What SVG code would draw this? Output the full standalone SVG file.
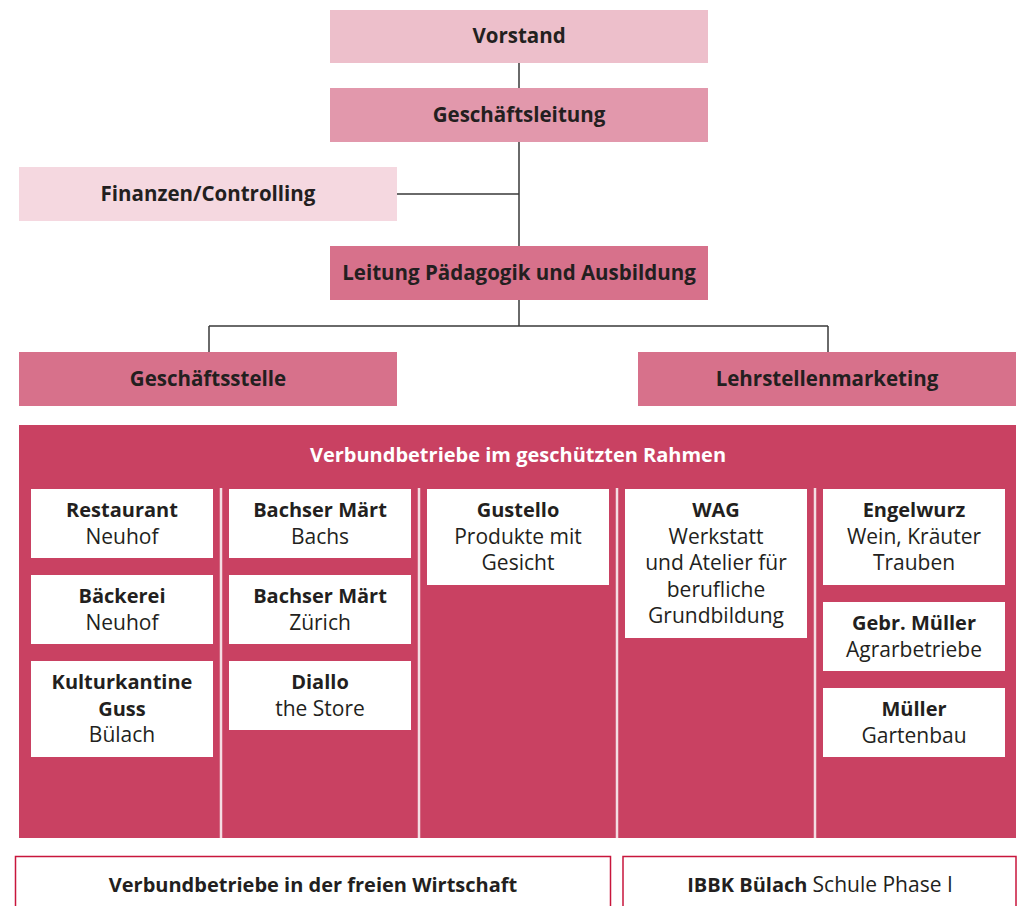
<svg xmlns="http://www.w3.org/2000/svg" width="1019" height="906" viewBox="0 0 1019 906">
<style>
text{font-family:"Open Sans","Liberation Sans",sans-serif;fill:#231f20;text-anchor:middle}
.h{font-size:20.5px;font-weight:700}
.b{font-size:20px;font-weight:700}
.r{font-size:21px;font-weight:400}
.cell{fill:#ffffff}
.ln{stroke:#3a3a3a;stroke-width:1.5;fill:none}
.sep{stroke:#f4dde3;stroke-width:2.5}
.out{fill:#ffffff;stroke:#c8163c;stroke-width:1.5}
</style>
<rect width="1019" height="906" fill="#ffffff"/>
<g id="connectors">
<path class="ln" d="M519 63V246M397 194H519M519 300V326M209 326H828M209 326V352M828 326V352"/>
</g>
<g id="vorstand"><rect x="330" y="10" width="378" height="53" fill="#edbfcb"/><text class="h" x="519" y="43">Vorstand</text></g>
<g id="geschaeftsleitung"><rect x="330" y="88" width="378" height="54" fill="#e298ac"/><text class="h" x="519" y="122">Geschäftsleitung</text></g>
<g id="finanzen"><rect x="19" y="167" width="378" height="54" fill="#f5d8e0"/><text class="h" x="208" y="201">Finanzen/Controlling</text></g>
<g id="leitung"><rect x="330" y="246" width="378" height="54" fill="#d7718b"/><text class="h" x="519" y="280">Leitung Pädagogik und Ausbildung</text></g>
<g id="geschaeftsstelle"><rect x="19" y="352" width="378" height="54" fill="#d7718b"/><text class="h" x="208" y="386">Geschäftsstelle</text></g>
<g id="lehrstellen"><rect x="638" y="352" width="378" height="54" fill="#d7718b"/><text class="h" x="827" y="386">Lehrstellenmarketing</text></g>
<g id="verbund">
<rect x="19" y="425" width="997" height="413" fill="#c94162"/>
<text class="b" x="518" y="462" style="fill:#ffffff">Verbundbetriebe im geschützten Rahmen</text>
<path class="sep" d="M221 488V838M419 488V838M617 488V838M815 488V838"/>
</g>
<g id="restaurant"><rect class="cell" x="31" y="489" width="182" height="69"/><text class="b" x="122" y="517">Restaurant</text><text class="r" x="122" y="544">Neuhof</text></g>
<g id="baeckerei"><rect class="cell" x="31" y="575" width="182" height="69"/><text class="b" x="122" y="603">Bäckerei</text><text class="r" x="122" y="630">Neuhof</text></g>
<g id="kulturkantine"><rect class="cell" x="31" y="661" width="182" height="96"/><text class="b" x="122" y="689">Kulturkantine</text><text class="b" x="122" y="716">Guss</text><text class="r" x="122" y="742">Bülach</text></g>
<g id="bachs"><rect class="cell" x="229" y="489" width="182" height="69"/><text class="b" x="320" y="517">Bachser Märt</text><text class="r" x="320" y="544">Bachs</text></g>
<g id="zuerich"><rect class="cell" x="229" y="575" width="182" height="69"/><text class="b" x="320" y="603">Bachser Märt</text><text class="r" x="320" y="630">Zürich</text></g>
<g id="diallo"><rect class="cell" x="229" y="661" width="182" height="69"/><text class="b" x="320" y="689">Diallo</text><text class="r" x="320" y="716">the Store</text></g>
<g id="gustello"><rect class="cell" x="427" y="489" width="182" height="96"/><text class="b" x="518" y="517">Gustello</text><text class="r" x="518" y="544">Produkte mit</text><text class="r" x="518" y="570">Gesicht</text></g>
<g id="wag"><rect class="cell" x="625" y="489" width="182" height="149"/><text class="b" x="716" y="517">WAG</text><text class="r" x="716" y="544">Werkstatt</text><text class="r" x="716" y="570">und Atelier für</text><text class="r" x="716" y="597">berufliche</text><text class="r" x="716" y="623">Grundbildung</text></g>
<g id="engelwurz"><rect class="cell" x="823" y="489" width="182" height="96"/><text class="b" x="914" y="517">Engelwurz</text><text class="r" x="914" y="544">Wein, Kräuter</text><text class="r" x="914" y="570">Trauben</text></g>
<g id="gebr-mueller"><rect class="cell" x="823" y="602" width="182" height="69"/><text class="b" x="914" y="630">Gebr. Müller</text><text class="r" x="914" y="657">Agrarbetriebe</text></g>
<g id="mueller"><rect class="cell" x="823" y="688" width="182" height="69"/><text class="b" x="914" y="716">Müller</text><text class="r" x="914" y="743">Gartenbau</text></g>
<g id="freie-wirtschaft"><rect class="out" x="15.5" y="856.5" width="595" height="60"/><text class="b" x="313" y="892">Verbundbetriebe in der freien Wirtschaft</text></g>
<g id="ibbk"><rect class="out" x="623" y="856.5" width="393" height="60"/><text class="b" x="820" y="892">IBBK Bülach <tspan style="font-weight:400;font-size:21px">Schule Phase I</tspan></text></g>
</svg>
